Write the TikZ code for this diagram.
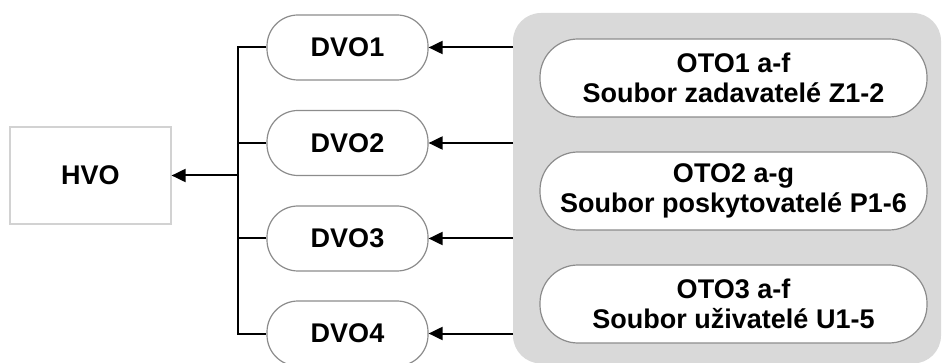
\documentclass[tikz,border=0pt]{standalone}
\usepackage{fontspec}
\setmainfont{Liberation Sans}
\definecolor{boxgray}{RGB}{217,217,217}
\definecolor{pillline}{RGB}{140,140,140}
\definecolor{hvoline}{RGB}{210,210,210}
\usetikzlibrary{arrows.meta,positioning}

\begin{document}
\begin{tikzpicture}[x=1pt,y=-1pt,
  lbl/.style={font=\fontsize{27}{30}\selectfont\bfseries,align=center,inner sep=0pt},
  pill/.style={lbl,draw=pillline,line width=1.2pt,fill=white,rounded corners=31pt,minimum width=161pt,minimum height=65pt},
  otopill/.style={pill,rounded corners=38pt,minimum width=387pt,minimum height=78pt},
  arr/.style={-{Triangle[length=14pt,width=13pt]},line width=2pt}]
  \useasboundingbox (0,0) rectangle (942,363);
  % grey group behind the OTO boxes
  \fill[boxgray,rounded corners=28pt] (513,13) rectangle (941,363.5);
  \coordinate (grp) at (513,188);
  \node[lbl,draw=hvoline,line width=1.2pt,fill=white,minimum width=161pt,minimum height=97pt] (hvo) at (90.5,175.5) {HVO};
  \node[pill] (dvo1) at (347.5,47.5) {DVO1};
  \node[pill] (dvo2) at (347.5,143) {DVO2};
  \node[pill] (dvo3) at (347.5,238.5) {DVO3};
  \node[pill] (dvo4) at (347.5,333.5) {DVO4};
  \node[otopill] (oto1) at (733.5,78) {OTO1 a-f\\Soubor zadavatelé Z1-2};
  \node[otopill] (oto2) at (733.5,191) {OTO2 a-g\\Soubor poskytovatelé P1-6};
  \node[otopill] (oto3) at (733.5,304) {OTO3 a-f\\Soubor uživatelé U1-5};
  \coordinate (bus) at (238,175.5);
  \draw[line width=2pt] (dvo1.west) -| (bus |- dvo4.west) -- (dvo4.west);
  \draw[line width=2pt] (dvo2.west) -- (bus |- dvo2.west);
  \draw[line width=2pt] (dvo3.west) -- (bus |- dvo3.west);
  \draw[arr] (bus) -- (hvo.east);
  \draw[arr] (grp |- dvo1.east) -- (dvo1.east);
  \draw[arr] (grp |- dvo2.east) -- (dvo2.east);
  \draw[arr] (grp |- dvo3.east) -- (dvo3.east);
  \draw[arr] (grp |- dvo4.east) -- (dvo4.east);
\end{tikzpicture}
\end{document}
